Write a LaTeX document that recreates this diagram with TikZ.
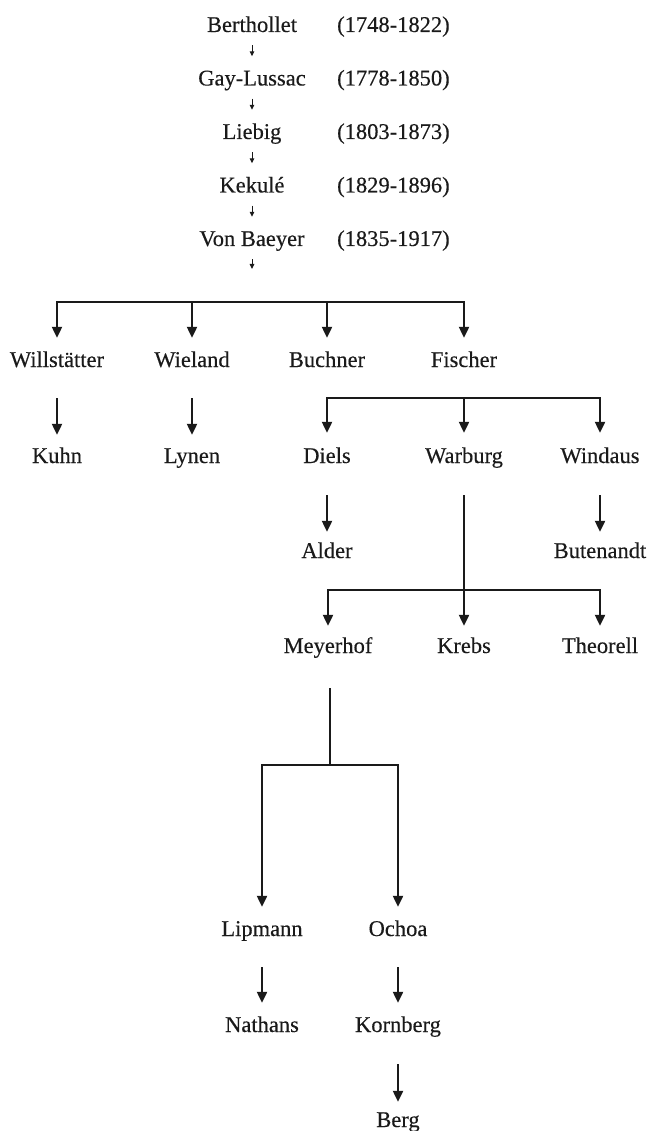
\documentclass[tikz,border=0pt]{standalone}
\usepackage{fontspec}
\setmainfont{Liberation Serif}[FakeBold=0.3]
\usetikzlibrary{arrows.meta}
\definecolor{ink}{HTML}{1A1A1A}
\begin{document}
\begin{tikzpicture}[x=1pt,y=1pt,
  nm/.style={anchor=base,inner sep=0pt,text height=15pt,text depth=5pt,text=ink,
    font=\fontsize{22.5pt}{26pt}\selectfont},
  dt/.style={anchor=base west,inner sep=0pt,text height=15pt,text depth=5pt,text=ink,
    font=\fontsize{22.5pt}{26pt}\selectfont},
  small/.style={draw=ink,line width=1pt,-{Triangle[width=4.5pt,length=5pt]}},
  bar/.style={draw=ink,line width=2.2pt},
  thin/.style={draw=ink,line width=1.1pt},
  arr/.style={draw=ink,line width=2.2pt,-{Triangle[width=10pt,length=11pt]}}]
\useasboundingbox (0,0) rectangle (649,-1131);
\fill[white] (0,0) rectangle (649,-1131);

% top chain
\node[nm] (berth) at (252,-32) {Berthollet};
\node[nm] (gay)   at (252,-85.5) {Gay-Lussac};
\node[nm] (lieb)  at (252,-139) {Liebig};
\node[nm] (kek)   at (252,-192.5) {Kekulé};
\node[nm] (baey)  at (252,-246) {Von Baeyer};
\node[dt] (d1) at (337,-32) {(1748-1822)};
\node[dt] (d2) at (337,-85.5) {(1778-1850)};
\node[dt] (d3) at (337,-139) {(1803-1873)};
\node[dt] (d4) at (337,-192.5) {(1829-1896)};
\node[dt] (d5) at (337,-246) {(1835-1917)};
\draw[small,shorten <=8pt,shorten >=14pt] (berth.south) -- (gay.north);
\draw[small,shorten <=8pt,shorten >=14pt] (gay.south) -- (lieb.north);
\draw[small,shorten <=8pt,shorten >=14pt] (lieb.south) -- (kek.north);
\draw[small,shorten <=8pt,shorten >=14pt] (kek.south) -- (baey.north);
\coordinate (vbend) at (252,-269);
\draw[small,shorten <=8pt] (baey.south) -- (vbend);

% row 1
\node[nm] (willst) at (57,-367) {Willstätter};
\node[nm] (wiel)   at (192,-367) {Wieland};
\node[nm] (buch)   at (327,-367) {Buchner};
\node[nm] (fisch)  at (464,-367) {Fischer};
\coordinate (a1) at (57,-302);
\coordinate (a2) at (192,-302);
\coordinate (a3) at (327,-302);
\coordinate (a4) at (464,-302);
\draw[bar,line cap=rect] (a1) -- (a4);
\draw[arr,shorten >=14pt] (a1) -- (willst.north);
\draw[arr,shorten >=14pt] (a2) -- (wiel.north);
\draw[arr,shorten >=14pt] (a3) -- (buch.north);
\draw[arr,shorten >=14pt] (a4) -- (fisch.north);

% row 2
\node[nm] (kuhn)  at (57,-463) {Kuhn};
\node[nm] (lyn)   at (192,-463) {Lynen};
\node[nm] (diels) at (327,-463) {Diels};
\node[nm] (warb)  at (464,-463) {Warburg};
\node[nm] (wind)  at (600,-463) {Windaus};
\draw[arr,shorten <=26pt,shorten >=13pt] (willst.south) -- (kuhn.north);
\draw[arr,shorten <=26pt,shorten >=13pt] (wiel.south) -- (lyn.north);
\coordinate (b1) at (327,-398);
\coordinate (b2) at (464,-398);
\coordinate (b3) at (600,-398);
\draw[bar,line cap=rect] (b1) -- (b3);
\draw[arr,shorten >=15pt] (b1) -- (diels.north);
\draw[arr,shorten >=15pt] (b2) -- (warb.north);
\draw[arr,shorten >=15pt] (b3) -- (wind.north);

% row 3
\node[nm] (alder) at (327,-558) {Alder};
\node[nm] (bute)  at (600,-558) {Butenandt};
\draw[arr,shorten <=27pt,shorten >=11pt] (diels.south) -- (alder.north);
\draw[arr,shorten <=27pt,shorten >=11pt] (wind.south) -- (bute.north);

% row 4
\node[nm] (meyer) at (328,-653) {Meyerhof};
\node[nm] (krebs) at (464,-653) {Krebs};
\node[nm] (theo)  at (600,-653) {Theorell};
\coordinate (c1) at (328,-590);
\coordinate (c2) at (464,-590);
\coordinate (c3) at (600,-590);
\draw[thin,shorten <=27pt] (warb.south) -- (c2);
\draw[bar,line cap=rect] (c1) -- (c3);
\draw[arr,shorten >=12pt] (c1) -- (meyer.north);
\draw[arr,shorten >=12pt] (c2) -- (krebs.north);
\draw[arr,shorten >=12pt] (c3) -- (theo.north);

% row 5
\node[nm] (lip)  at (262,-936) {Lipmann};
\node[nm] (och)  at (398,-936) {Ochoa};
\coordinate (mtop) at (330,-688);
\coordinate (mbot) at (330,-765);
\draw[bar] (mtop) -- (mbot);
\coordinate (e1) at (262,-765);
\coordinate (e2) at (398,-765);
\draw[bar,line cap=rect] (e1) -- (e2);
\draw[arr,shorten >=14pt] (e1) -- (lip.north);
\draw[arr,shorten >=14pt] (e2) -- (och.north);

% row 6, 7
\node[nm] (nath) at (262,-1032) {Nathans};
\node[nm] (korn) at (398,-1032) {Kornberg};
\node[nm] (berg) at (398,-1127) {Berg};
\draw[arr,shorten <=26pt,shorten >=14pt] (lip.south) -- (nath.north);
\draw[arr,shorten <=26pt,shorten >=14pt] (och.south) -- (korn.north);
\draw[arr,shorten <=27pt,shorten >=10pt] (korn.south) -- (berg.north);
\end{tikzpicture}
\end{document}
